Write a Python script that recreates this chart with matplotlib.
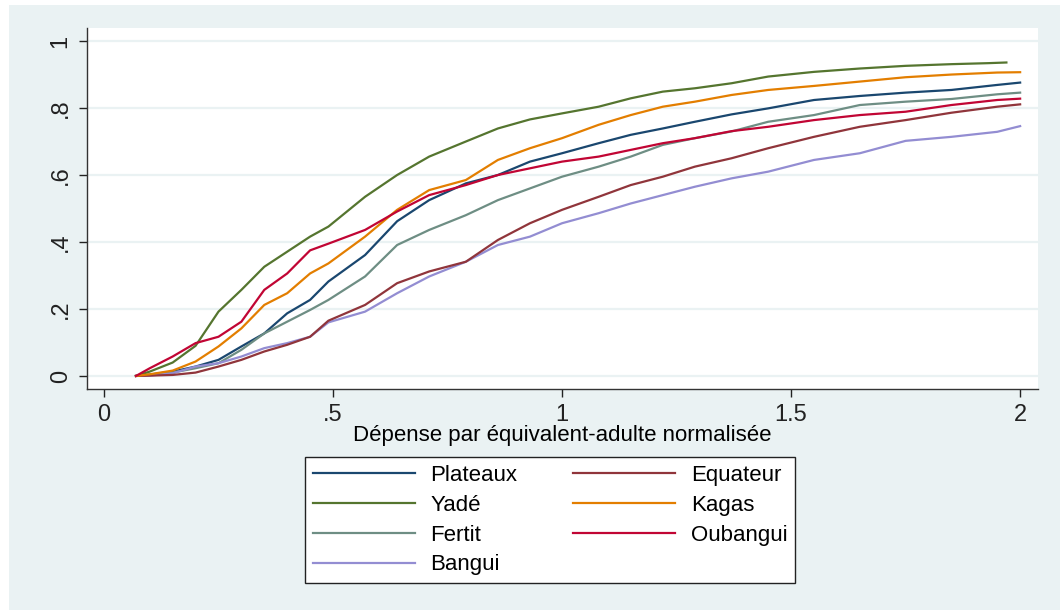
import matplotlib
matplotlib.use("Agg")
import matplotlib.pyplot as plt
from matplotlib.patches import Rectangle

plt.rcParams['font.family'] = ['Liberation Sans', 'DejaVu Sans']

# Données (fonctions de répartition par région)
x_grid = [0.07, 0.10, 0.15, 0.20, 0.25, 0.30, 0.35, 0.40, 0.45, 0.49, 0.57, 0.64,
          0.71, 0.79, 0.86, 0.93, 1.00, 1.08, 1.15, 1.22, 1.29, 1.37, 1.45, 1.55,
          1.65, 1.75, 1.85, 1.95, 2.00]
yade_x = x_grid[:-2] + [1.93, 1.97]

plateaux = [0, 0.004, 0.013, 0.028, 0.048, 0.088, 0.127, 0.187, 0.227, 0.282, 0.361, 0.462,
            0.525, 0.575, 0.60, 0.64, 0.665, 0.695, 0.72, 0.739, 0.759, 0.781, 0.799, 0.824,
            0.836, 0.846, 0.854, 0.869, 0.876]
equateur = [0, 0.001, 0.003, 0.01, 0.028, 0.048, 0.073, 0.093, 0.117, 0.165, 0.212, 0.277,
            0.312, 0.341, 0.406, 0.456, 0.496, 0.535, 0.57, 0.595, 0.625, 0.65, 0.68, 0.714,
            0.744, 0.764, 0.786, 0.804, 0.811]
yade = [0, 0.013, 0.04, 0.09, 0.192, 0.257, 0.326, 0.371, 0.416, 0.446, 0.535, 0.60,
        0.655, 0.70, 0.739, 0.766, 0.784, 0.804, 0.829, 0.849, 0.859, 0.874, 0.894, 0.908,
        0.918, 0.926, 0.931, 0.934, 0.936]
kagas = [0, 0.005, 0.016, 0.043, 0.088, 0.142, 0.212, 0.247, 0.306, 0.336, 0.416, 0.496,
         0.555, 0.585, 0.645, 0.68, 0.71, 0.75, 0.779, 0.804, 0.819, 0.839, 0.854, 0.866,
         0.879, 0.892, 0.90, 0.906, 0.907]
fertit = [0, 0.003, 0.01, 0.023, 0.038, 0.078, 0.127, 0.162, 0.197, 0.227, 0.297, 0.391,
          0.436, 0.48, 0.525, 0.56, 0.595, 0.625, 0.655, 0.69, 0.71, 0.73, 0.759, 0.779,
          0.809, 0.819, 0.827, 0.841, 0.846]
oubangui = [0, 0.023, 0.058, 0.098, 0.117, 0.162, 0.257, 0.306, 0.375, 0.395, 0.436, 0.491,
            0.54, 0.57, 0.60, 0.62, 0.64, 0.655, 0.675, 0.695, 0.71, 0.731, 0.744, 0.764,
            0.779, 0.789, 0.809, 0.824, 0.828]
bangui = [0, 0.001, 0.008, 0.028, 0.038, 0.058, 0.083, 0.098, 0.117, 0.16, 0.192, 0.247,
          0.297, 0.341, 0.391, 0.416, 0.456, 0.486, 0.515, 0.54, 0.565, 0.59, 0.61, 0.645,
          0.665, 0.702, 0.714, 0.729, 0.746]

x_ticks = [0, 0.5, 1, 1.5, 2]
x_ticklabels = ["0", ".5", "1", "1.5", "2"]
y_ticks = [0, 0.2, 0.4, 0.6, 0.8, 1]
y_ticklabels = ["0", ".2", ".4", ".6", ".8", "1"]

series = [
    ("Plateaux", x_grid, plateaux, "#1a476f"),
    ("Yadé", yade_x, yade, "#55752f"),
    ("Fertit", x_grid, fertit, "#6e8e84"),
    ("Bangui", x_grid, bangui, "#938dd2"),
    ("Equateur", x_grid, equateur, "#90353b"),
    ("Kagas", x_grid, kagas, "#e37e00"),
    ("Oubangui", x_grid, oubangui, "#c10534"),
]

fig = plt.figure(figsize=(10.6, 6.1), dpi=100)
fig.patch.set_facecolor("white")
fig.add_artist(Rectangle((9 / 1060, 0), 1, 605 / 610, transform=fig.transFigure,
                         facecolor="#eaf2f3", edgecolor="none", zorder=0))

ax = fig.add_axes([87 / 1060, 221 / 610, 951 / 1060, 361 / 610])
ax.set_facecolor("white")

for name, xs, ys, col in series:
    ax.plot(xs, ys, color=col, linewidth=1.6, label=name)

ax.set_xlim(-0.037, 2.039)
ax.set_ylim(-0.039, 1.039)
ax.set_xticks(x_ticks)
ax.set_xticklabels(x_ticklabels)
ax.set_yticks(y_ticks)
ax.set_yticklabels(y_ticklabels, rotation=90, va="center")
ax.tick_params(axis="both", direction="out", length=6, width=1, colors="#222222",
               labelsize=17, pad=5)
ax.grid(axis="y", color="#eaf2f3", linewidth=1.6)
ax.set_axisbelow(True)
for s in ["top", "right"]:
    ax.spines[s].set_visible(False)
for s in ["left", "bottom"]:
    ax.spines[s].set_color("#333333")
    ax.spines[s].set_linewidth(1)

ax.set_xlabel("Dépense par équivalent-adulte normalisée", fontsize=16, labelpad=-1)

leg = fig.legend(loc="upper left", ncol=2, bbox_to_anchor=(305 / 1060, 153 / 610),
                 borderaxespad=0, fontsize=16, handlelength=4.6,
                 handletextpad=0.7, labelspacing=0.4, borderpad=0.35, fancybox=False,
                 framealpha=1, edgecolor="#222222", columnspacing=2.5)
leg.get_frame().set_linewidth(1)

plt.savefig("out.png", dpi=100)
